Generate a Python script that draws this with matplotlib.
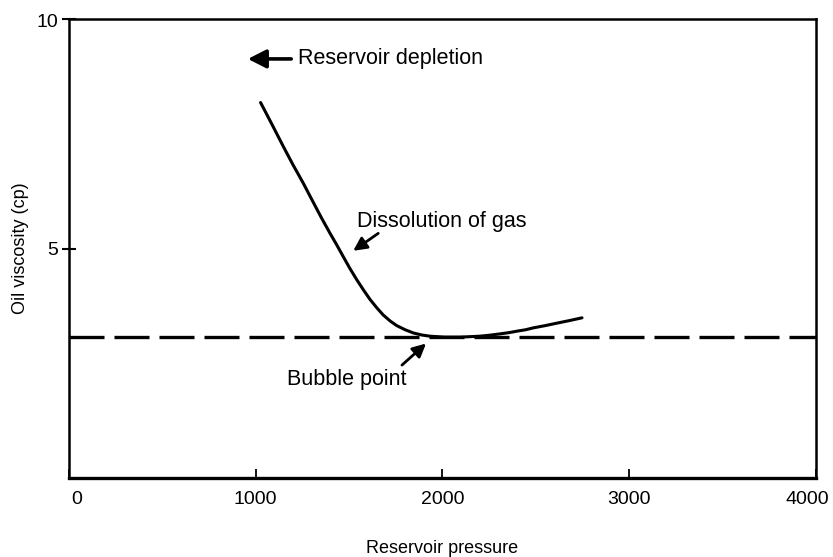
import matplotlib
matplotlib.use("Agg")
import matplotlib.pyplot as plt
import matplotlib.transforms as mtransforms

plt.rcParams['font.family'] = ['Liberation Sans', 'DejaVu Sans']

# viscosity curve read along the pressure axis
pressure = [1026, 1090, 1148, 1200, 1255, 1305, 1353, 1398, 1435, 1469,
            1505, 1541, 1578, 1612, 1650, 1683, 1720, 1755, 1800, 1844,
            1890, 1933, 1970, 2010, 2050, 2094, 2150, 2200, 2250, 2308,
            2360, 2400, 2445, 2485, 2550, 2620, 2680, 2747]
viscosity = [8.18, 7.68, 7.22, 6.82, 6.42, 6.03, 5.66, 5.33, 5.07, 4.82,
             4.56, 4.32, 4.09, 3.89, 3.70, 3.55, 3.42, 3.32, 3.23, 3.16,
             3.115, 3.09, 3.08, 3.07, 3.07, 3.07, 3.08, 3.09, 3.11, 3.14,
             3.17, 3.20, 3.23, 3.27, 3.32, 3.38, 3.43, 3.49]
bubble_point_visc = 3.08

x_ticks = [0, 1000, 2000, 3000, 4000]
y_ticks = [5, 10]


def main():
    fig = plt.figure(figsize=(8.33, 5.57), dpi=100)
    ax = fig.add_axes([0.0828, 0.1418, 0.8968, 0.8241])

    ax.axhline(bubble_point_visc, color='black', lw=2.4, dashes=(10.5, 3.0))
    ax.plot(pressure, viscosity, color='black', lw=2.2,
            solid_capstyle='round', solid_joinstyle='round')

    ax.set_xlim(0, 4000)
    ax.set_ylim(0, 10)
    ax.set_xticks(x_ticks)
    ax.set_yticks(y_ticks)
    ax.set_xticklabels([str(v) for v in x_ticks])
    ax.set_yticklabels([str(v) for v in y_ticks])

    for side in ['left', 'right', 'top', 'bottom']:
        ax.spines[side].set_linewidth(1.8)
    ax.spines['bottom'].set_linewidth(2.4)

    ax.tick_params(axis='x', direction='in', length=6.5, width=1.3,
                   pad=9, labelsize=14)
    ax.tick_params(axis='y', direction='inout', length=10, width=1.5,
                   pad=3, labelsize=14)

    # nudge the end labels so they sit inside the frame
    xl = ax.get_xticklabels()
    xl[0].set_transform(xl[0].get_transform() +
                        mtransforms.ScaledTranslation(8 / 100, 0, fig.dpi_scale_trans))
    xl[-1].set_transform(xl[-1].get_transform() +
                         mtransforms.ScaledTranslation(-9 / 100, 0, fig.dpi_scale_trans))
    yl = ax.get_yticklabels()
    yl[-1].set_transform(yl[-1].get_transform() +
                         mtransforms.ScaledTranslation(0, -2 / 100, fig.dpi_scale_trans))

    ax.set_xlabel('Reservoir pressure', fontsize=13)
    ax.set_ylabel('Oil viscosity (cp)', fontsize=13)
    ax.xaxis.set_label_coords(0.5, -0.135)
    ax.yaxis.set_label_coords(-0.054, 0.5)

    ax.annotate('', xy=(958, 9.13), xytext=(1190, 9.13),
                arrowprops=dict(arrowstyle='-|>,head_length=0.55,head_width=0.28',
                                mutation_scale=20, lw=2.6, color='black',
                                shrinkA=0, shrinkB=0))
    ax.text(1226, 9.13, 'Reservoir depletion', fontsize=15.5, va='center', ha='left')

    ax.annotate('', xy=(1522, 4.95), xytext=(1656, 5.33),
                arrowprops=dict(arrowstyle='-|>,head_length=0.4,head_width=0.2',
                                mutation_scale=20, lw=2.0, color='black',
                                shrinkA=0, shrinkB=0))
    ax.text(1542, 5.59, 'Dissolution of gas', fontsize=15.5, va='center', ha='left')

    ax.annotate('', xy=(1912, 2.93), xytext=(1783, 2.46),
                arrowprops=dict(arrowstyle='-|>,head_length=0.4,head_width=0.2',
                                mutation_scale=20, lw=2.0, color='black',
                                shrinkA=0, shrinkB=0))
    ax.text(1167, 2.15, 'Bubble point', fontsize=15.5, va='center', ha='left')

    fig.savefig('out.png', dpi=100)
    plt.close(fig)


if __name__ == "__main__":
    main()
